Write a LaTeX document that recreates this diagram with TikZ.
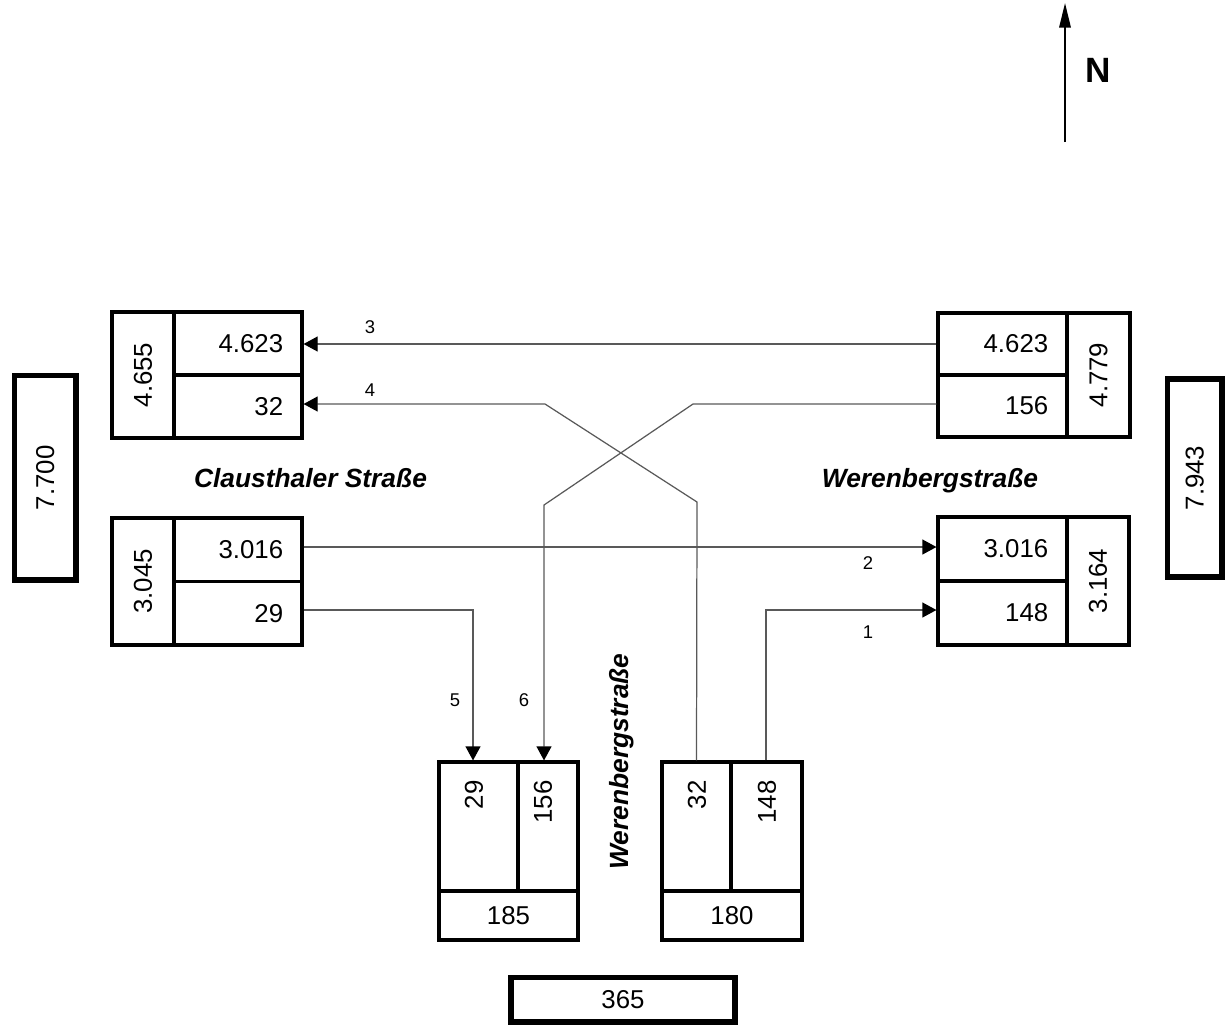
\documentclass[tikz,border=0pt]{standalone}
\usepackage{fontspec}
\setmainfont{Liberation Sans}
\usetikzlibrary{arrows.meta}
\tikzset{
  cell/.style={draw, line width=1.8pt, inner sep=0pt, anchor=center},
  bigbox/.style={draw, line width=3.2pt, inner sep=0pt, anchor=center},
  num/.style={inner sep=0pt, font=\fontsize{14.7}{17}\selectfont},
  lbl/.style={inner sep=0pt, font=\fontsize{10.5}{12}\selectfont},
  street/.style={inner sep=0pt, anchor=base, font=\fontsize{15}{18}\selectfont\bfseries\itshape},
  conn/.style={draw=black!65, line width=0.7pt},
  tip/.style={-{Triangle[length=8pt,width=8.5pt,color=black]}},
  northarrow/.style={draw=black, line width=1.1pt, -{Triangle[length=14pt,width=6.5pt]}}
}
\begin{document}
\begin{tikzpicture}[x=0.02cm, y=-0.02cm]
\useasboundingbox (0,0) rectangle (1229,1028);

% north arrow
\coordinate (nS) at (1065,142);
\coordinate (nT) at (1065,3);
\draw[northarrow] (nS) -- (nT);
\node[inner sep=0pt, font=\fontsize{20}{24}\selectfont\bfseries] (nlab) at (1098,70) {N};

% top-left group
\node[cell, minimum width=1.24cm, minimum height=2.52cm] (tlA) at (143,375) {};
\node[cell, minimum width=2.56cm, minimum height=1.26cm] (tl1) at (238,343.5) {};
\node[cell, minimum width=2.56cm, minimum height=1.26cm] (tl2) at (238,406.5) {};
\node[num, rotate=90] (tlAt) at (tlA.center) {4.655};
\node[num, anchor=east] (tl1t) at ([xshift=-0.4cm]tl1.east) {4.623};
\node[num, anchor=east] (tl2t) at ([xshift=-0.4cm]tl2.east) {32};

% top-right group
\node[cell, minimum width=2.58cm, minimum height=1.24cm] (tr1) at (1002.5,344) {};
\node[cell, minimum width=2.58cm, minimum height=1.24cm] (tr2) at (1002.5,406) {};
\node[cell, minimum width=1.26cm, minimum height=2.48cm] (trA) at (1098.5,375) {};
\node[num, anchor=east] (tr1t) at ([xshift=-0.4cm]tr1.east) {4.623};
\node[num, anchor=east] (tr2t) at ([xshift=-0.4cm]tr2.east) {156};
\node[num, rotate=90] (trAt) at (trA.center) {4.779};

% bottom-left group
\node[cell, minimum width=1.24cm, minimum height=2.54cm] (blA) at (143,581.5) {};
\node[cell, minimum width=2.56cm, minimum height=1.27cm] (bl1) at (238,549.75) {};
\node[cell, minimum width=2.56cm, minimum height=1.27cm] (bl2) at (238,613.25) {};
\node[num, rotate=90] (blAt) at (blA.center) {3.045};
\node[num, anchor=east] (bl1t) at ([xshift=-0.4cm]bl1.east) {3.016};
\node[num, anchor=east] (bl2t) at ([xshift=-0.4cm]bl2.east) {29};

% bottom-right group
\node[cell, minimum width=2.58cm, minimum height=1.28cm] (br1) at (1002.5,549) {};
\node[cell, minimum width=2.58cm, minimum height=1.28cm] (br2) at (1002.5,613) {};
\node[cell, minimum width=1.24cm, minimum height=2.56cm] (brA) at (1098,581) {};
\node[num, anchor=east] (br1t) at ([xshift=-0.4cm]br1.east) {3.016};
\node[num, anchor=east] (br2t) at ([xshift=-0.4cm]br2.east) {148};
\node[num, rotate=90] (brAt) at (brA.center) {3.164};

% south groups
\node[cell, minimum width=1.58cm, minimum height=2.58cm] (bL1) at (478.5,826.5) {};
\node[cell, minimum width=1.20cm, minimum height=2.58cm] (bL2) at (548,826.5) {};
\node[cell, minimum width=2.78cm, minimum height=0.98cm] (bLs) at (508.5,915.5) {};
\node[cell, minimum width=1.38cm, minimum height=2.58cm] (bR1) at (696.5,826.5) {};
\node[cell, minimum width=1.42cm, minimum height=2.58cm] (bR2) at (766.5,826.5) {};
\node[cell, minimum width=2.80cm, minimum height=0.98cm] (bRs) at (732,915.5) {};
\node[num, rotate=90, anchor=east] (bL1t) at (474,780) {29};
\node[num, rotate=90, anchor=east] (bL2t) at (543,780) {156};
\node[num, rotate=90, anchor=east] (bR1t) at (697,780) {32};
\node[num, rotate=90, anchor=east] (bR2t) at (767,780) {148};
\node[num] (bLst) at (bLs.center) {185};
\node[num] (bRst) at (bRs.center) {180};

% totals
\node[bigbox, minimum width=1.23cm, minimum height=4.09cm] (totL) at (45.25,477.75) {};
\node[num, rotate=90] (totLt) at (totL.center) {7.700};
\node[bigbox, minimum width=1.09cm, minimum height=3.96cm] (totR) at (1194.75,478) {};
\node[num, rotate=90] (totRt) at (totR.center) {7.943};
\node[bigbox, minimum width=4.48cm, minimum height=0.89cm] (totS) at (623,999.75) {};
\node[num] (totSt) at (totS.center) {365};

% street names
\node[street] (sCl) at (310.5,487) {Clausthaler Straße};
\node[street] (sWe) at (930,487) {Werenbergstraße};
\node[street, rotate=90] (sWs) at (628,761.5) {Werenbergstraße};

% connectors
\draw[conn, tip] (tr1.west) -- (tr1.west -| tl1.east);
\coordinate (k4a) at (697,502);
\coordinate (k4b) at (545,404);
\draw[conn, tip] (bR1.north) -- (k4a) -- (k4b) -- (k4b -| tl2.east);
\coordinate (k6a) at (693,404);
\coordinate (k6b) at (544,505);
\draw[conn, tip] (k6a -| tr2.west) -- (k6a) -- (k6b) -- (k6b |- bL2.north);
\coordinate (k5) at (473,610);
\draw[conn, tip] (k5 -| bl2.east) -- (k5) -- (k5 |- bL1.north);
\coordinate (k2) at (600,547);
\draw[conn, tip] (k2 -| bl1.east) -- (k2 -| br1.west);
\coordinate (k1) at (766,610);
\draw[conn, tip] (k1 |- bR2.north) -- (k1) -- (k1 -| br2.west);

% connector labels
\node[lbl] (l3) at (370,327) {3};
\node[lbl] (l4) at (370,390) {4};
\node[lbl] (l2) at (868,563) {2};
\node[lbl] (l1) at (868,632) {1};
\node[lbl] (l5) at (455,700) {5};
\node[lbl] (l6) at (524,700) {6};
\end{tikzpicture}
\end{document}
